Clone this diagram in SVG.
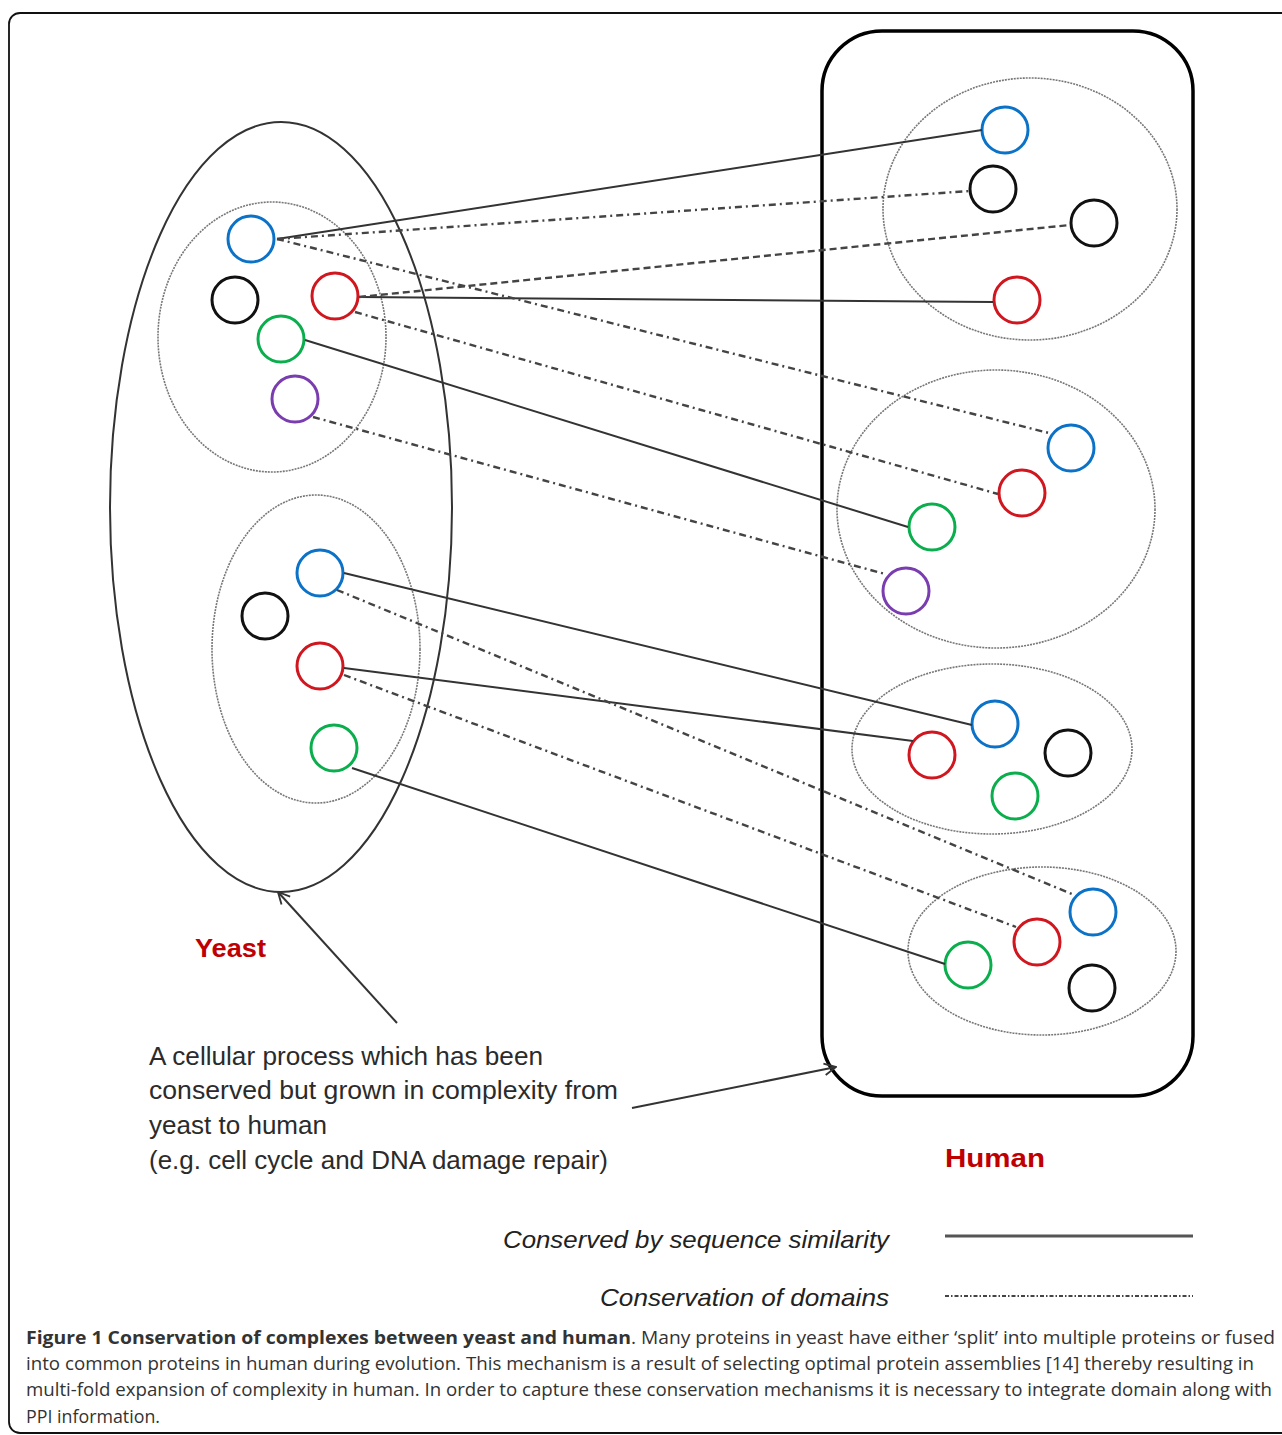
<svg xmlns="http://www.w3.org/2000/svg" width="1282" height="1435" viewBox="0 0 1282 1435">
<style>
.frame{fill:none;stroke:#111;stroke-width:1.8}
.big{fill:none;stroke:#333;stroke-width:2}
.human{fill:none;stroke:#000;stroke-width:3.5}
.grp{fill:none;stroke:#777;stroke-width:1.6;stroke-dasharray:2 1}
.p{fill:none;stroke-width:3}
.blue{stroke:#0b72c8}
.black{stroke:#111}
.red{stroke:#d0161e}
.green{stroke:#0aae4c}
.purple{stroke:#7a3db0}
.solid{fill:none;stroke:#333;stroke-width:2}
.dd{fill:none;stroke:#444;stroke-width:2.4;stroke-dasharray:7 4 2 4}
.dash{fill:none;stroke:#444;stroke-width:2.4;stroke-dasharray:7 4}
.arrow{fill:none;stroke:#333;stroke-width:2}
.lbl{font-family:"Liberation Sans",Arial,sans-serif;fill:#2b2b2b;font-size:25px}
.sp{font-family:"Liberation Sans",Arial,sans-serif;fill:#c00000;font-size:26px;font-weight:bold}
.leg{font-family:"Liberation Sans",Arial,sans-serif;fill:#222;font-size:24px;font-style:italic}
.cap{font-family:"Open Sans","Liberation Sans",sans-serif;fill:#333;font-size:18px}
</style>
<defs>
<marker id="ah" viewBox="0 0 12 12" refX="11" refY="6" markerWidth="14" markerHeight="14" markerUnits="userSpaceOnUse" orient="auto">
<path d="M1,1 L11,6 L1,11" fill="none" stroke="#333" stroke-width="1.6"/>
</marker>
</defs>
<rect class="frame" x="9" y="13" width="1300" height="1420" rx="11"/>

<g id="yeast">
<ellipse class="big" cx="281" cy="507" rx="171" ry="385"/>
</g>
<g id="yeast-complex-1">
<ellipse class="grp" cx="272" cy="337" rx="114" ry="135"/>
<circle class="p blue" cx="251" cy="239" r="23"/>
<circle class="p black" cx="235" cy="300" r="23"/>
<circle class="p red" cx="335" cy="296" r="23"/>
<circle class="p green" cx="281" cy="339" r="23"/>
<circle class="p purple" cx="295" cy="399" r="23"/>
</g>
<g id="yeast-complex-2">
<ellipse class="grp" cx="316" cy="649" rx="104" ry="154"/>
<circle class="p blue" cx="320" cy="573" r="23"/>
<circle class="p black" cx="265" cy="616" r="23"/>
<circle class="p red" cx="320" cy="666" r="23"/>
<circle class="p green" cx="334" cy="748" r="23"/>
</g>

<g id="human">
<rect class="human" x="822" y="31" width="371" height="1065" rx="60"/>
</g>
<g id="human-complex-1">
<ellipse class="grp" cx="1030" cy="209" rx="147" ry="131"/>
<circle class="p blue" cx="1005" cy="130" r="23"/>
<circle class="p black" cx="993" cy="189" r="23"/>
<circle class="p black" cx="1094" cy="223" r="23"/>
<circle class="p red" cx="1017" cy="300" r="23"/>
</g>
<g id="human-complex-2">
<ellipse class="grp" cx="996" cy="509" rx="159" ry="139"/>
<circle class="p blue" cx="1071" cy="448" r="23"/>
<circle class="p red" cx="1022" cy="493" r="23"/>
<circle class="p green" cx="932" cy="527" r="23"/>
<circle class="p purple" cx="906" cy="591" r="23"/>
</g>
<g id="human-complex-3">
<ellipse class="grp" cx="992" cy="749" rx="140" ry="85"/>
<circle class="p blue" cx="995" cy="724" r="23"/>
<circle class="p red" cx="932" cy="755" r="23"/>
<circle class="p black" cx="1068" cy="753" r="23"/>
<circle class="p green" cx="1015" cy="796" r="23"/>
</g>
<g id="human-complex-4">
<ellipse class="grp" cx="1042" cy="951" rx="134" ry="84"/>
<circle class="p blue" cx="1093" cy="912" r="23"/>
<circle class="p red" cx="1037" cy="942" r="23"/>
<circle class="p green" cx="968" cy="965" r="23"/>
<circle class="p black" cx="1092" cy="988" r="23"/>
</g>

<g id="connectors">
<line class="solid" x1="277" y1="239" x2="982" y2="130"/>
<line class="solid" x1="359" y1="297" x2="993" y2="302"/>
<line class="solid" x1="305" y1="340" x2="908" y2="527"/>
<line class="solid" x1="344" y1="573" x2="972" y2="725"/>
<line class="solid" x1="344" y1="668" x2="913" y2="741"/>
<line class="solid" x1="352" y1="768" x2="945" y2="964"/>
<line class="dd" x1="277" y1="239" x2="970" y2="191"/>
<line class="dd" x1="277" y1="239" x2="1049" y2="433"/>
<line class="dash" x1="359" y1="297" x2="1070" y2="225"/>
<line class="dd" x1="355" y1="312" x2="998" y2="494"/>
<line class="dd" x1="313" y1="417" x2="885" y2="574"/>
<line class="dd" x1="337" y1="590" x2="1072" y2="894"/>
<line class="dd" x1="344" y1="675" x2="1016" y2="927"/>
<line class="arrow" x1="397" y1="1023" x2="278" y2="892" marker-end="url(#ah)"/>
<line class="arrow" x1="632" y1="1108" x2="836" y2="1067" marker-end="url(#ah)"/>
</g>

<g id="labels">
<text class="sp" x="195" y="957" textLength="71" lengthAdjust="spacingAndGlyphs">Yeast</text>
<text class="sp" x="945" y="1167" textLength="100" lengthAdjust="spacingAndGlyphs">Human</text>
<text class="lbl" x="149" y="1065" textLength="394" lengthAdjust="spacingAndGlyphs">A cellular process which has been</text>
<text class="lbl" x="149" y="1099" textLength="469" lengthAdjust="spacingAndGlyphs">conserved but grown in complexity from</text>
<text class="lbl" x="149" y="1134" textLength="178" lengthAdjust="spacingAndGlyphs">yeast to human</text>
<text class="lbl" x="149" y="1169" textLength="459" lengthAdjust="spacingAndGlyphs">(e.g. cell cycle and DNA damage repair)</text>
</g>

<g id="legend">
<text class="leg" x="889" y="1248" text-anchor="end" textLength="386" lengthAdjust="spacingAndGlyphs">Conserved by sequence similarity</text>
<line x1="945" y1="1236" x2="1193" y2="1236" stroke="#555" stroke-width="3"/>
<text class="leg" x="889" y="1306" text-anchor="end" textLength="289" lengthAdjust="spacingAndGlyphs">Conservation of domains</text>
<line x1="945" y1="1296" x2="1193" y2="1296" stroke="#444" stroke-width="2" stroke-dasharray="4 2 1.5 2"/>
</g>

<g id="caption">
<text class="cap" x="26" y="1344" font-weight="bold" textLength="605" lengthAdjust="spacingAndGlyphs">Figure 1 Conservation of complexes between yeast and human</text>
<text class="cap" x="631" y="1344" textLength="644" lengthAdjust="spacingAndGlyphs">. Many proteins in yeast have either ‘split’ into multiple proteins or fused</text>
<text class="cap" x="26" y="1370" textLength="1228" lengthAdjust="spacingAndGlyphs">into common proteins in human during evolution. This mechanism is a result of selecting optimal protein assemblies [14] thereby resulting in</text>
<text class="cap" x="26" y="1396" textLength="1246" lengthAdjust="spacingAndGlyphs">multi-fold expansion of complexity in human. In order to capture these conservation mechanisms it is necessary to integrate domain along with</text>
<text class="cap" x="26" y="1423" textLength="134" lengthAdjust="spacingAndGlyphs">PPI information.</text>
</g>
</svg>
